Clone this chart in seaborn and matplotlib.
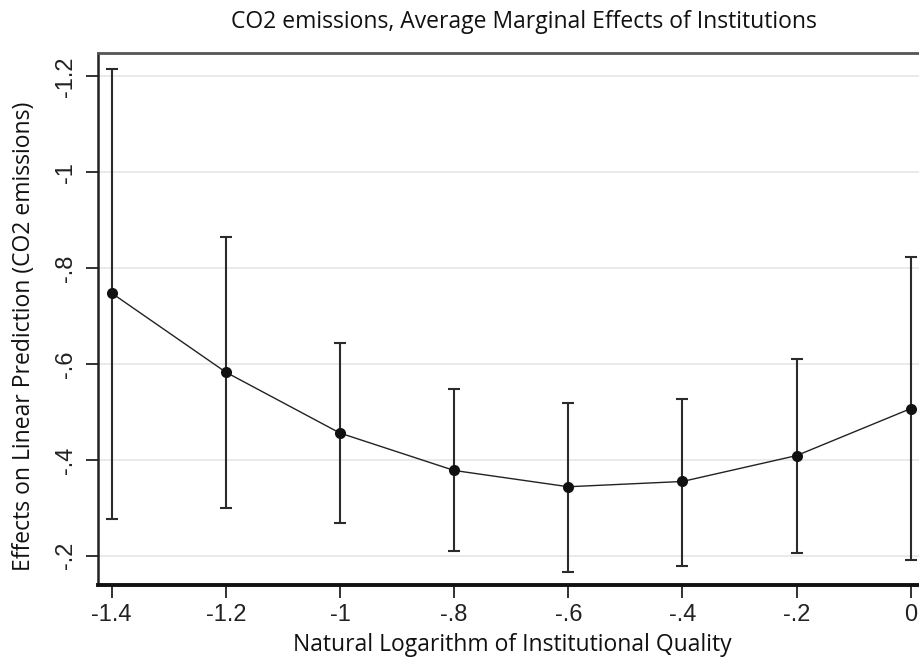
import matplotlib
matplotlib.use("Agg")
import matplotlib.pyplot as plt
import seaborn as sns
import numpy as np
import pandas as pd

# ---- data ----
inst_quality = [-1.4, -1.2, -1.0, -0.8, -0.6, -0.4, -0.2, 0.0]
effect = [-0.748, -0.583, -0.456, -0.378, -0.344, -0.355, -0.409, -0.507]
ci_upper = [-1.215, -0.866, -0.643, -0.547, -0.518, -0.527, -0.610, -0.823]
ci_lower = [-0.276, -0.299, -0.268, -0.209, -0.167, -0.179, -0.205, -0.192]

x_ticks = [-1.4, -1.2, -1.0, -0.8, -0.6, -0.4, -0.2, 0.0]
x_tick_labels = ["-1.4", "-1.2", "-1", "-.8", "-.6", "-.4", "-.2", "0"]
y_ticks = [-0.2, -0.4, -0.6, -0.8, -1.0, -1.2]
y_tick_labels = ["-.2", "-.4", "-.6", "-.8", "-1", "-1.2"]

title = "CO2 emissions, Average Marginal Effects of Institutions"
x_label = "Natural Logarithm of Institutional Quality"
y_label = "Effects on Linear Prediction (CO2 emissions)"

df = pd.DataFrame({"x": inst_quality, "y": effect,
                   "lo": ci_lower, "hi": ci_upper})

sns.set_theme(style="white")
plt.rcParams["font.family"] = ["Open Sans", "DejaVu Sans"]

fig = plt.figure(figsize=(9.2, 6.63), dpi=100)
ax = fig.add_axes([98 / 920, 1 - 585 / 663, 1 - 98 / 920, (585 - 53) / 663])

# grid
for yt in y_ticks:
    ax.axhline(yt, color="#e8e8e8", lw=1.3, zorder=0)

# confidence intervals
ax.errorbar(df["x"], df["y"],
            yerr=[np.array(df["y"]) - np.array(df["hi"]),
                  np.array(df["lo"]) - np.array(df["y"])],
            fmt="none", ecolor="#2b2b2b", elinewidth=1.5,
            capsize=4, capthick=1.5, zorder=2)

sns.lineplot(data=df, x="x", y="y", ax=ax, color="#222222", lw=1.0,
             marker="o", markersize=8, markeredgewidth=0,
             markerfacecolor="#111111", zorder=3)

ax.set_xlim(-1.424, 0.0163)
ax.set_ylim(-0.139, -1.249)

tick_font = ["Liberation Sans", "DejaVu Sans"]
ax.set_xticks(x_ticks)
ax.set_xticklabels(x_tick_labels, family=tick_font, fontsize=17,
                   color="#222222")
ax.set_yticks(y_ticks)
ax.set_yticklabels(y_tick_labels, family=tick_font, fontsize=17,
                   color="#222222", rotation=90, va="center")

ax.tick_params(axis="both", which="both", direction="out", length=9,
               width=1.3, color="#222222", bottom=True, left=True)
ax.tick_params(axis="x", pad=5)
ax.tick_params(axis="y", pad=6)

ax.spines["right"].set_visible(False)
ax.spines["left"].set_color("#222222")
ax.spines["left"].set_linewidth(1.8)
ax.spines["bottom"].set_color("#111111")
ax.spines["bottom"].set_linewidth(2.8)
ax.spines["top"].set_color("#555555")
ax.spines["top"].set_linewidth(2.0)

ax.set_xlabel(x_label, fontsize=16.5, color="#111111")
ax.xaxis.label.set_va("center")
ax.xaxis.set_label_coords((512 - 98) / 822, (585 - 645) / 532)
ax.set_ylabel(y_label, fontsize=16.5, color="#111111")
ax.yaxis.label.set_va("center")
ax.yaxis.set_label_coords((24 - 98) / 822, (585 - 336) / 532)

fig.text(524 / 920, 1 - 22 / 663, title, fontsize=16.5, color="#111111",
         ha="center", va="center")

fig.savefig("out.png", dpi=100, facecolor="white")
